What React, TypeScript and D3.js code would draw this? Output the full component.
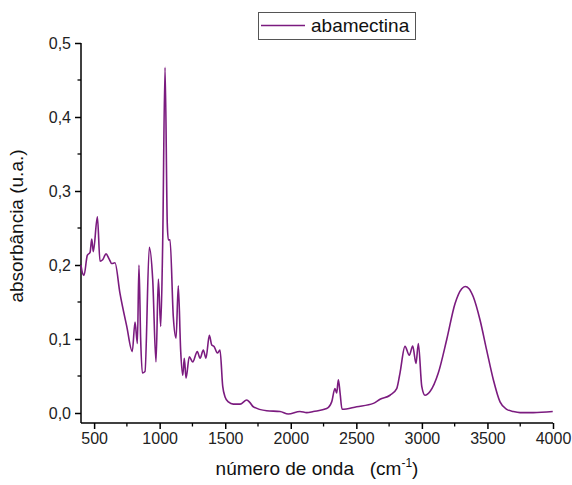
import * as d3 from "d3";
import React, { useEffect, useRef } from "react";

// FTIR spectrum
const waveNumbers = [
  400, 410, 423, 448, 469, 482, 494, 525, 545, 565, 591, 615, 634, 659, 697,
  749, 791, 812, 830, 842, 855, 868, 888, 921, 947, 972, 990, 1008, 1023,
  1041, 1058, 1066, 1079, 1104, 1125, 1142, 1160, 1176, 1188, 1201, 1226,
  1252, 1287, 1308, 1333, 1353, 1379, 1397, 1415, 1440, 1460, 1481, 1498,
  1524, 1562, 1613, 1664, 1689, 1714, 1816, 1918, 1981, 2070, 2121, 2172,
  2274, 2312, 2337, 2350, 2363, 2376, 2391, 2503, 2630, 2681, 2757, 2808,
  2833, 2871, 2904, 2930, 2955, 2973, 2999, 3024, 3062, 3125, 3189, 3253,
  3304, 3330, 3360, 3392, 3443, 3494, 3545, 3596, 3647, 3698, 3749, 3850,
  3998,
];
const absorbance = [
  0.2, 0.19, 0.186, 0.213, 0.217, 0.235, 0.218, 0.265, 0.205, 0.207, 0.215,
  0.208, 0.202, 0.203, 0.162, 0.117, 0.083, 0.123, 0.094, 0.2, 0.1, 0.054,
  0.056, 0.224, 0.18, 0.069, 0.181, 0.117, 0.229, 0.467, 0.256, 0.234, 0.234,
  0.13, 0.101, 0.172, 0.085, 0.051, 0.074, 0.047, 0.076, 0.069, 0.083, 0.074,
  0.085, 0.074, 0.105, 0.092, 0.09, 0.081, 0.085, 0.036, 0.022, 0.015, 0.012,
  0.012, 0.0176, 0.014, 0.0085, 0.003, 0.002, -0.0014, 0.002, 0.0005, 0.002,
  0.006, 0.015, 0.033, 0.027, 0.045, 0.027, 0.005, 0.0085, 0.013, 0.0185,
  0.024, 0.033, 0.054, 0.09, 0.078, 0.0905, 0.067, 0.094, 0.036, 0.024, 0.029,
  0.054, 0.099, 0.148, 0.168, 0.171, 0.168, 0.157, 0.126, 0.085, 0.045, 0.015,
  0.005, 0.002, 0.0005, 0.0005, 0.002,
];
const xTicks = [500, 1000, 1500, 2000, 2500, 3000, 3500, 4000];
const yTicks = [0, 0.1, 0.2, 0.3, 0.4, 0.5];
const seriesName = "abamectina";

const width = 572;
const height = 485;
const lineColor = "#7b1b7f";
const font = "'Liberation Sans', Arial, sans-serif";

const App: React.FC = () => {
  const ref = useRef<SVGSVGElement | null>(null);

  useEffect(() => {
    if (!ref.current) return;
    const svg = d3.select(ref.current);
    svg.selectAll("*").remove();

    const x = d3.scaleLinear().domain([400, 4000]).range([81, 553]);
    const y = d3.scaleLinear().domain([0, 0.5]).range([413, 43]);
    const yBottom = 423;

    const comma = (v: number) => d3.format(".1f")(v).replace(".", ",");

    // minor ticks
    const xMinor = d3.range(750, 4000, 500);
    const yMinor = d3.range(0.05, 0.5, 0.1);

    const xAxis = svg
      .append("g")
      .attr("transform", `translate(0,${yBottom})`)
      .call(
        d3
          .axisBottom(x)
          .tickValues(xTicks)
          .tickFormat(d3.format("d") as any)
          .tickSize(6)
          .tickSizeOuter(0)
          .tickPadding(4)
      );
    xAxis
      .selectAll(".minor")
      .data(xMinor)
      .enter()
      .append("line")
      .attr("x1", (d) => x(d))
      .attr("x2", (d) => x(d))
      .attr("y1", 0)
      .attr("y2", 3.5)
      .attr("stroke", "#000")
      .attr("stroke-width", 1.3);

    const yAxis = svg
      .append("g")
      .attr("transform", `translate(81,0)`)
      .call(
        d3
          .axisLeft(y)
          .tickValues(yTicks)
          .tickFormat((d) => comma(d as number))
          .tickSize(6)
          .tickSizeOuter(0)
          .tickPadding(4)
      );
    yAxis.select(".domain").attr("d", `M0,${y(0.5)}V${yBottom}`);
    yAxis
      .selectAll(".minor")
      .data(yMinor)
      .enter()
      .append("line")
      .attr("x1", 0)
      .attr("x2", -3.5)
      .attr("y1", (d) => y(d))
      .attr("y2", (d) => y(d))
      .attr("stroke", "#000")
      .attr("stroke-width", 1.3);

    xAxis.select(".domain").attr("d", `M81,0H${x(4000)}`);

    svg
      .selectAll(".domain, .tick line")
      .attr("stroke", "#000")
      .attr("stroke-width", 1.5);
    svg
      .selectAll(".tick text")
      .attr("font-family", font)
      .attr("font-size", 16)
      .attr("fill", "#222");

    const line = d3
      .line<number>()
      .x((d) => x(d))
      .y((_, i) => y(absorbance[i]))
      .curve(d3.curveMonotoneX);

    svg
      .append("path")
      .attr("d", line(waveNumbers) ?? "")
      .attr("fill", "none")
      .attr("stroke", lineColor)
      .attr("stroke-width", 1.6)
      .attr("stroke-linejoin", "round");

    // axis titles
    svg
      .append("text")
      .attr("transform", `translate(23,226) rotate(-90)`)
      .attr("text-anchor", "middle")
      .attr("font-family", font)
      .attr("font-size", 19)
      .attr("fill", "#111")
      .text("absorbância (u.a.)");

    const xt = svg
      .append("text")
      .attr("x", 317)
      .attr("y", 475)
      .attr("text-anchor", "middle")
      .attr("font-family", font)
      .attr("font-size", 19)
      .attr("fill", "#111")
      .attr("xml:space", "preserve")
      .style("white-space", "pre");
    xt.append("tspan").text("número de onda   (cm");
    xt.append("tspan").attr("dy", -8).attr("font-size", 12).text("-1");
    xt.append("tspan").attr("dy", 8).text(")");

    // legend
    const lg = svg.append("g");
    lg.append("rect")
      .attr("x", 258.5)
      .attr("y", 12.5)
      .attr("width", 157)
      .attr("height", 27)
      .attr("fill", "#fff")
      .attr("stroke", "#555")
      .attr("stroke-width", 1);
    lg.append("line")
      .attr("x1", 261)
      .attr("x2", 305)
      .attr("y1", 25.5)
      .attr("y2", 25.5)
      .attr("stroke", lineColor)
      .attr("stroke-width", 1.6);
    lg.append("text")
      .attr("x", 311)
      .attr("y", 32)
      .attr("font-family", font)
      .attr("font-size", 19)
      .attr("fill", "#111")
      .text(seriesName);
  }, []);

  return (
    <svg
      ref={ref}
      width={width}
      height={height}
      style={{ position: "absolute", left: 0, top: 0, background: "#fff" }}
    ></svg>
  );
};

export default App;
